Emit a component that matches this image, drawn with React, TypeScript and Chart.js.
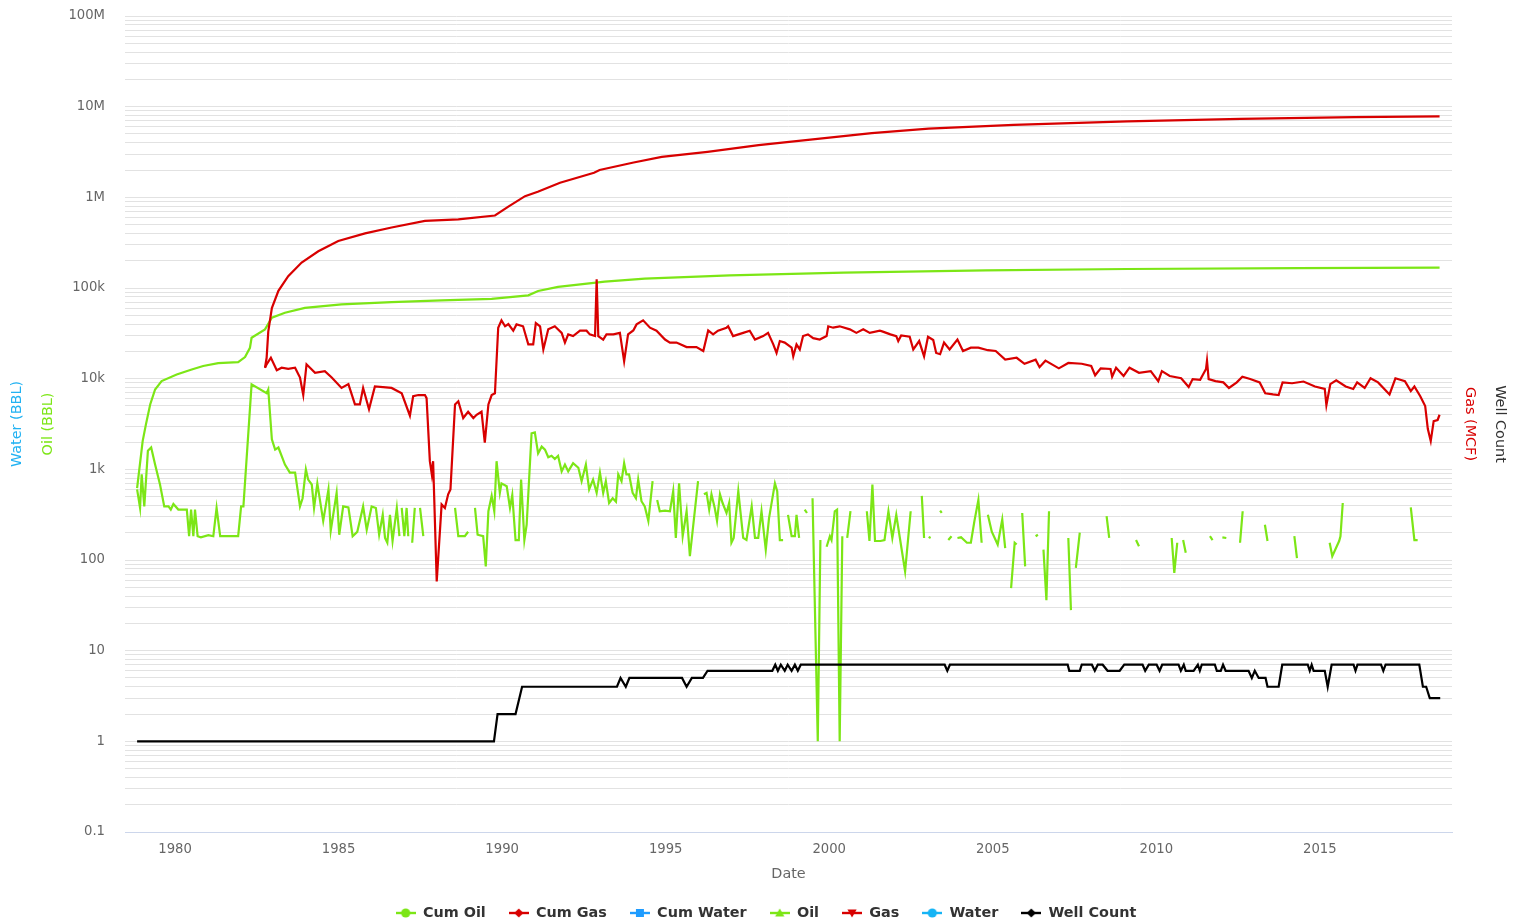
import React, { useEffect, useRef } from 'react';
import { Chart, registerables } from 'chart.js';

Chart.register(...registerables);

const FONT = '"DejaVu Sans", Verdana, sans-serif';

// ---- axes ----
const X_MIN = 1978.47;
const X_MAX = 2019.04;
const xTickYears = [1980, 1985, 1990, 1995, 2000, 2005, 2010, 2015];
const yDecades = [0.1, 1, 10, 100, 1e3, 1e4, 1e5, 1e6, 1e7, 1e8];
const yTickLabels = ['0.1', '1', '10', '100', '1k', '10k', '100k', '1M', '10M', '100M'];

// ---- series names / colours ----
const seriesNames = ['Cum Oil', 'Cum Gas', 'Cum Water', 'Oil', 'Gas', 'Water', 'Well Count'];
const seriesColors = ['#7ce616', '#d80000', '#1e9cff', '#7ce616', '#d80000', '#16b4f5', '#000000'];
const seriesSymbols = ['circle', 'diamond', 'square', 'triangle', 'triangle-down', 'circle', 'diamond'];

// ---- Cum Oil ----
const cumOilDates = [1978.84, 1979.01, 1979.11, 1979.24, 1979.39, 1979.59, 1980.05, 1980.51, 1980.86, 1981.32, 1981.93, 1982.14, 1982.29, 1982.34, 1982.75, 1982.96, 1983.36, 1983.97, 1985.09, 1986.62, 1988.15, 1989.68, 1990.80, 1991.10, 1991.71, 1993.14, 1994.36, 1996.96, 2000.44, 2004.78, 2009.11, 2014.31, 2018.66];
const cumOilValues = [620, 2050, 3130, 5200, 7600, 9400, 11100, 12600, 13800, 14850, 15200, 17300, 21900, 28300, 35000, 47000, 53300, 60300, 66000, 70000, 73100, 76000, 83000, 92700, 103000, 117500, 127000, 138000, 147500, 156800, 162000, 166000, 167500];

// ---- Cum Gas ----
const cumGasDates = [1982.75, 1982.80, 1982.85, 1982.96, 1983.16, 1983.46, 1983.87, 1984.38, 1984.99, 1985.81, 1986.62, 1987.64, 1988.66, 1989.78, 1990.19, 1990.70, 1991.09, 1991.77, 1992.81, 1992.98, 1994.02, 1994.88, 1996.28, 1997.84, 1999.57, 2001.30, 2003.04, 2005.64, 2009.11, 2012.58, 2016.05, 2018.66];
const cumGasValues = [13200, 17000, 33000, 60000, 93000, 135000, 191000, 254000, 330000, 400000, 465000, 550000, 570000, 630000, 790000, 1030000, 1150000, 1450000, 1870000, 2000000, 2420000, 2790000, 3170000, 3760000, 4380000, 5100000, 5730000, 6300000, 6900000, 7330000, 7660000, 7800000];

// ---- Cum Water / Water (no data) ----
const cumWaterDates: number[] = [];
const cumWaterValues: number[] = [];
const waterDates: number[] = [];
const waterValues: number[] = [];

// ---- Oil (monthly, null = no production) ----
const oilDates = [
  1978.84, 1978.93, 1978.98, 1979.06, 1979.17, 1979.27, 1979.39, 1979.54, 1979.67, 1979.80, 1979.87, 1979.95,
  1980.10, 1980.36, 1980.43, 1980.49, 1980.56, 1980.61, 1980.69, 1980.79, 1981.02, 1981.17, 1981.27, 1981.38,
  1981.93, 1982.02, 1982.09, 1982.34, 1982.80, 1982.85, 1982.96, 1983.06, 1983.16, 1983.36, 1983.51, 1983.67,
  1983.82, 1983.90, 1984.00, 1984.07, 1984.18, 1984.25, 1984.35, 1984.53, 1984.69, 1984.76, 1984.94, 1985.02,
  1985.14, 1985.30, 1985.43, 1985.57, 1985.75, 1985.86, 1986.01, 1986.14, 1986.24, 1986.35, 1986.42, 1986.49,
  1986.57, 1986.65, 1986.78, 1986.86, 1986.90, 1986.93, 1987.01, 1987.08, 1987.13, 1987.19, 1987.25, 1987.33,
  1987.41, 1987.49, 1987.59, 1988.00, 1988.56, 1988.66, 1988.86, 1988.96, 1989.06, 1989.17, 1989.25, 1989.42,
  1989.50, 1989.58, 1989.68, 1989.76, 1989.83, 1989.93, 1989.98, 1990.14, 1990.24, 1990.31, 1990.41, 1990.51,
  1990.58, 1990.68, 1990.75, 1990.90, 1991.00, 1991.10, 1991.21, 1991.31, 1991.41, 1991.51, 1991.61, 1991.71,
  1991.82, 1991.92, 1992.02, 1992.17, 1992.33, 1992.43, 1992.56, 1992.66, 1992.78, 1992.89, 1992.99, 1993.09,
  1993.17, 1993.27, 1993.38, 1993.48, 1993.55, 1993.65, 1993.73, 1993.80, 1993.88, 1993.99, 1994.09, 1994.16,
  1994.26, 1994.36, 1994.47, 1994.60, 1994.67, 1994.74, 1994.82, 1994.98, 1995.13, 1995.23, 1995.31, 1995.41,
  1995.52, 1995.64, 1995.74, 1995.99, 1996.08, 1996.17, 1996.25, 1996.33, 1996.40, 1996.50, 1996.57, 1996.66,
  1996.74, 1996.86, 1996.94, 1997.01, 1997.08, 1997.22, 1997.37, 1997.47, 1997.63, 1997.73, 1997.83, 1997.93,
  1998.06, 1998.16, 1998.34, 1998.41, 1998.49, 1998.59, 1998.66, 1998.74, 1998.85, 1998.95, 1999.00, 1999.08,
  1999.16, 1999.25, 1999.32, 1999.40, 1999.49, 1999.65, 1999.73, 1999.82, 1999.92, 2000.02, 2000.07, 2000.17,
  2000.24, 2000.32, 2000.40, 2000.47, 2000.55, 2000.65, 2000.90, 2001.15, 2001.23, 2001.32, 2001.40, 2001.57,
  2001.69, 2001.81, 2001.93, 2002.05, 2002.16, 2002.32, 2002.49, 2002.66, 2002.83, 2002.90, 2002.97, 2003.04,
  2003.10, 2003.25, 2003.39, 2003.44, 2003.54, 2003.64, 2003.74, 2003.83, 2003.92, 2004.03, 2004.21, 2004.33,
  2004.44, 2004.56, 2004.66, 2004.75, 2004.85, 2004.97, 2005.15, 2005.29, 2005.38, 2005.47, 2005.56, 2005.67,
  2005.73, 2005.81, 2005.90, 2005.99, 2006.15, 2006.31, 2006.38, 2006.46, 2006.55, 2006.64, 2006.72, 2007.00,
  2007.31, 2007.39, 2007.46, 2007.54, 2007.66, 2008.00, 2008.48, 2008.56, 2009.00, 2009.38, 2009.47, 2010.00,
  2010.47, 2010.55, 2010.64, 2010.73, 2010.82, 2010.90, 2011.30, 2011.64, 2011.72, 2011.87, 2012.02, 2012.14,
  2012.35, 2012.56, 2012.64, 2013.00, 2013.32, 2013.40, 2013.80, 2014.22, 2014.30, 2014.80, 2015.30, 2015.38,
  2015.59, 2015.63, 2015.70, 2016.70, 2017.78, 2017.89, 2017.99
];
const oilValues = [
  600, 375, 880, 390, 1600, 1740, 1130, 680, 390, 390, 360, 415,
  360, 360, 183, 360, 183, 360, 183, 178, 188, 183, 375, 183,
  183, 390, 390, 8650, 6900, 7600, 2140, 1650, 1740, 1130, 920, 920,
  390, 480, 1000, 770, 680, 375, 700, 270, 600, 210, 550, 190,
  390, 380, 183, 204, 390, 215, 390, 375, 190, 315, 175, 155,
  315, 162, 375, 183, null, 375, 183, 375, 183, null, 155, 375,
  null, 375, 183, null, 375, 183, 183, 205, null, 375, 190, 183,
  85, 345, 510, 345, 1230, 550, 700, 650, 375, 520, 166, 166,
  770, 166, 245, 2500, 2560, 1500, 1780, 1650, 1360, 1410, 1300, 1410,
  950, 1130, 950, 1170, 1040, 740, 1130, 600, 770, 550, 920, 550,
  740, 425, 480, 440, 880, 740, 1170, 880, 880, 550, 480, 770,
  445, 390, 270, 740, null, 460, 345, 350, 345, 575, 175, 700,
  183, 345, 110, 740, null, 530, 550, 360, 530, 375, 270, 530,
  425, 330, 425, 155, 175, 575, 175, 166, 390, 175, 175, 345,
  130, 290, 700, 575, 166, 166, null, 315, 183, 183, 315, 175,
  null, 360, 330, null, 480, 1, 166, null, 140, 183, 166, 345,
  360, 1, 183, null, 175, 345, null, 345, 162, 680, 162, 162,
  166, 345, 175, 315, 175, 75, 345, null, 510, 175, null, 180,
  175, null, 350, 330, null, 166, 183, null, 175, 178, 155, 155,
  270, 460, 155, null, 315, 205, 148, 280, 135, null, 49, 155,
  148, null, 330, 85, null, 183, 190, null, 130, 36, 345, null,
  175, 28, null, 82, 200, null, 305, 175, null, 166, 142, null,
  175, 72, 155, null, 166, 120, null, 183, 166, null, 178, 175,
  null, 155, 345, null, 245, 162, null, 183, 105, null, 155, 110,
  162, 183, 425, null, 380, 166, 166
];

// ---- Gas (monthly) ----
const gasDates = [
  1982.75, 1982.80, 1982.93, 1983.11, 1983.26, 1983.46, 1983.67, 1983.82, 1983.92, 1984.02, 1984.28, 1984.58,
  1984.79, 1985.09, 1985.30, 1985.50, 1985.65, 1985.75, 1985.93, 1986.11, 1986.62, 1986.93, 1987.18, 1987.28,
  1987.44, 1987.64, 1987.69, 1987.79, 1987.85, 1987.89, 1988.00, 1988.15, 1988.25, 1988.35, 1988.42, 1988.56,
  1988.66, 1988.81, 1988.96, 1989.12, 1989.22, 1989.37, 1989.47, 1989.58, 1989.68, 1989.78, 1989.88, 1989.98,
  1990.09, 1990.19, 1990.34, 1990.44, 1990.64, 1990.80, 1990.95, 1991.03, 1991.16, 1991.26, 1991.41, 1991.61,
  1991.82, 1991.92, 1992.02, 1992.17, 1992.38, 1992.58, 1992.68, 1992.84, 1992.89, 1992.94, 1993.09, 1993.19,
  1993.40, 1993.60, 1993.73, 1993.85, 1994.01, 1994.11, 1994.31, 1994.52, 1994.72, 1994.98, 1995.13, 1995.33,
  1995.64, 1995.94, 1996.15, 1996.30, 1996.45, 1996.60, 1996.86, 1996.91, 1997.06, 1997.37, 1997.57, 1997.73,
  1997.98, 1998.13, 1998.29, 1998.39, 1998.49, 1998.64, 1998.85, 1998.90, 1999.00, 1999.10, 1999.20, 1999.35,
  1999.51, 1999.71, 1999.92, 1999.97, 2000.12, 2000.32, 2000.63, 2000.83, 2001.04, 2001.24, 2001.55, 2001.64,
  2001.87, 2002.05, 2002.11, 2002.20, 2002.46, 2002.57, 2002.75, 2002.90, 2003.02, 2003.18, 2003.27, 2003.39,
  2003.51, 2003.68, 2003.92, 2004.09, 2004.33, 2004.56, 2004.85, 2005.09, 2005.38, 2005.73, 2005.97, 2006.31,
  2006.43, 2006.61, 2007.02, 2007.31, 2007.72, 2008.01, 2008.13, 2008.30, 2008.60, 2008.65, 2008.77, 2009.00,
  2009.18, 2009.47, 2009.83, 2010.06, 2010.17, 2010.41, 2010.76, 2010.99, 2011.11, 2011.34, 2011.52, 2011.55,
  2011.60, 2011.81, 2012.05, 2012.22, 2012.46, 2012.63, 2012.87, 2013.16, 2013.33, 2013.57, 2013.74, 2013.86,
  2014.15, 2014.50, 2014.85, 2015.15, 2015.20, 2015.32, 2015.50, 2015.79, 2016.02, 2016.14, 2016.37, 2016.55,
  2016.78, 2017.13, 2017.31, 2017.60, 2017.78, 2017.89, 2018.07, 2018.22, 2018.30, 2018.39, 2018.48, 2018.60,
  2018.66
];
const gasValues = [
  13200, 14400, 17000, 12400, 13200, 12800, 13200, 10300, 6600, 14400, 11600, 12100,
  10300, 7900, 8700, 5200, 5200, 7900, 4600, 8200, 7900, 6900, 3900, 6400,
  6600, 6600, 6100, 1230, 880, 1230, 58, 410, 375, 530, 600, 5200,
  5630, 3680, 4320, 3680, 4000, 4320, 1970, 5200, 6600, 6900, 36500, 44000,
  37800, 40000, 33800, 39700, 37800, 23900, 23900, 41000, 37800, 21000, 35000, 37800,
  32000, 25000, 30800, 29500, 33800, 33800, 30800, 29500, 125000, 29500, 27000, 30800,
  30800, 32000, 15600, 30800, 34000, 39700, 44000, 36500, 33800, 27000, 25000, 25000,
  22300, 22300, 20200, 34000, 30800, 33800, 36500, 37800, 29500, 32000, 33800, 27000,
  29500, 32000, 23900, 19200, 26000, 25000, 22000, 17600, 23900, 21000, 29500, 30800,
  28000, 27000, 29500, 37800, 36500, 37800, 35000, 32000, 35000, 32000, 33800, 33000,
  30800, 29500, 26000, 30000, 29000, 21000, 26000, 17600, 29000, 26700, 19200, 18600,
  25000, 21000, 27000, 20200, 22000, 22000, 20600, 20200, 16200, 17000, 14600, 16200,
  13400, 15800, 13000, 14900, 14600, 13800, 10900, 13000, 12800, 10500, 13200, 10700,
  13200, 11600, 12100, 9400, 12100, 10700, 10100, 8100, 9900, 9700, 12800, 15800,
  9900, 9400, 9100, 7900, 9100, 10500, 9900, 9100, 6900, 6700, 6600, 9100,
  8900, 9300, 8200, 7700, 5100, 8700, 9600, 8200, 7700, 9100, 7900, 10100,
  9100, 6700, 10100, 9400, 7300, 8200, 6400, 5000, 2800, 2050, 3400, 3500,
  4000
];

// ---- Well Count ----
const wellDates = [
  1978.84, 1989.75, 1989.86, 1990.41, 1990.61, 1993.51, 1993.62, 1993.78, 1993.89, 1995.50, 1995.64, 1995.80,
  1996.14, 1996.28, 1998.26, 1998.35, 1998.43, 1998.52, 1998.64, 1998.73, 1998.85, 1998.95, 1999.04, 1999.13,
  2003.53, 2003.61, 2003.69, 2007.29, 2007.34, 2007.66, 2007.72, 2008.03, 2008.12, 2008.21, 2008.36, 2008.51,
  2008.88, 2009.02, 2009.58, 2009.66, 2009.77, 2010.01, 2010.10, 2010.18, 2010.68, 2010.75, 2010.84, 2010.90,
  2011.14, 2011.27, 2011.33, 2011.39, 2011.79, 2011.85, 2011.97, 2012.04, 2012.12, 2012.82, 2012.92, 2013.01,
  2013.13, 2013.34, 2013.40, 2013.74, 2013.85, 2014.63, 2014.69, 2014.75, 2014.81, 2015.15, 2015.24, 2015.36,
  2016.03, 2016.09, 2016.15, 2016.87, 2016.94, 2017.01, 2018.04, 2018.15, 2018.25, 2018.36, 2018.68
];
const wellValues = [
  1, 1, 2, 2, 4, 4, 5, 4, 5, 5, 4, 5,
  5, 6, 6, 7, 6, 7, 6, 7, 6, 7, 6, 7,
  7, 6, 7, 7, 6, 6, 7, 7, 6, 7, 7, 6,
  6, 7, 7, 6, 7, 7, 6, 7, 7, 6, 7, 6,
  6, 7, 6, 7, 7, 6, 6, 7, 6, 6, 5, 6,
  5, 5, 4, 4, 7, 7, 6, 7, 6, 6, 4, 7,
  7, 6, 7, 7, 6, 7, 7, 4, 4, 3, 3
];

const toPoints = (xs: number[], ys: (number | null)[]) => xs.map((x, i) => ({ x, y: ys[i] }));

function makeSymbol(color: string, shape: string): HTMLCanvasElement {
  const c = document.createElement('canvas');
  c.width = 20;
  c.height = 12;
  const g = c.getContext('2d')!;
  g.strokeStyle = color;
  g.lineWidth = 2.4;
  g.beginPath();
  g.moveTo(0, 6);
  g.lineTo(20, 6);
  g.stroke();
  g.fillStyle = color;
  const cx = 10, cy = 6, r = 4.6;
  g.beginPath();
  if (shape === 'circle') g.arc(cx, cy, r, 0, Math.PI * 2);
  else if (shape === 'diamond') { g.moveTo(cx, cy - r); g.lineTo(cx + r, cy); g.lineTo(cx, cy + r); g.lineTo(cx - r, cy); g.closePath(); }
  else if (shape === 'square') g.rect(cx - 4, cy - 4, 8, 8);
  else if (shape === 'triangle') { g.moveTo(cx, cy - r); g.lineTo(cx + r, cy + r - 1); g.lineTo(cx - r, cy + r - 1); g.closePath(); }
  else if (shape === 'triangle-down') { g.moveTo(cx - r, cy - r + 1); g.lineTo(cx + r, cy - r + 1); g.lineTo(cx, cy + r); g.closePath(); }
  g.fill();
  return c;
}

export default function App() {
  const ref = useRef<HTMLCanvasElement>(null);

  useEffect(() => {
    document.body.style.margin = '0';
    const canvas = ref.current!;
    const seriesData = [
      toPoints(cumOilDates, cumOilValues),
      toPoints(cumGasDates, cumGasValues),
      toPoints(cumWaterDates, cumWaterValues),
      toPoints(oilDates, oilValues),
      toPoints(gasDates, gasValues),
      toPoints(waterDates, waterValues),
      toPoints(wellDates, wellValues),
    ];
    const symbols = seriesNames.map((_, i) => makeSymbol(seriesColors[i], seriesSymbols[i]));

    const titleOnlyAxis = (position: string, weight: number, text: string, color: string, padTop: number, width: number) => ({
      type: 'linear',
      position,
      weight,
      display: true,
      ticks: { display: false },
      grid: { display: false },
      border: { display: false },
      title: { display: true, text, color, font: { family: FONT, size: 14.4 }, padding: { top: padTop, bottom: 0 } },
      afterFit: (s: any) => { s.width = width; },
    });

    const chart = new Chart(canvas, {
      type: 'line',
      data: {
        datasets: seriesNames.map((name, i) => ({
          label: name,
          data: seriesData[i],
          borderColor: seriesColors[i],
          backgroundColor: seriesColors[i],
          borderWidth: 2.2,
          pointRadius: 0,
          pointHoverRadius: 0,
          tension: 0,
          spanGaps: false,
          fill: false,
          yAxisID: 'y',
          xAxisID: 'x',
          order: 6 - i,
        })),
      },
      options: {
        responsive: false,
        animation: false,
        parsing: true,
        events: [],
        layout: { padding: { top: 16, bottom: -7.2, left: 0, right: 0 } },
        scales: {
          x: {
            type: 'linear',
            position: 'bottom',
            min: X_MIN,
            max: X_MAX,
            afterBuildTicks: (s: any) => { s.ticks = xTickYears.map((v) => ({ value: v })); },
            ticks: {
              autoSkip: false,
              maxRotation: 0,
              color: '#666666',
              font: { family: FONT, size: 13.2 },
              padding: 2,
              callback: (v: any) => String(v),
            },
            grid: { display: true, drawOnChartArea: false, drawTicks: true, tickLength: 8, tickColor: 'rgba(0,0,0,0)' },
            border: { display: true, color: '#ccd6eb', width: 1 },
            title: { display: true, text: 'Date', color: '#666666', font: { family: FONT, size: 14.4 }, padding: { top: 0, bottom: 0 } },
            afterFit: (s: any) => { s.height = 50.8; },
          },
          yWater: titleOnlyAxis('left', 10, 'Water (BBL)', '#22b2f2', 8.4, 33),
          y: {
            type: 'logarithmic',
            position: 'left',
            weight: 0,
            min: 0.1,
            max: 1e8,
            afterBuildTicks: (s: any) => {
              const t: any[] = [];
              for (let d = 0; d < yDecades.length - 1; d++) {
                for (let m = 1; m <= 9; m++) t.push({ value: yDecades[d] * m, major: m === 1 });
              }
              t.push({ value: yDecades[yDecades.length - 1], major: true });
              s.ticks = t;
            },
            ticks: {
              autoSkip: false,
              color: '#666666',
              font: { family: FONT, size: 13.2 },
              padding: 3,
              callback: (v: any) => {
                const idx = yDecades.findIndex((d) => Math.abs(d - v) / d < 1e-6);
                return idx >= 0 ? yTickLabels[idx] : '';
              },
            },
            grid: { color: '#e2e2e2', lineWidth: 1, drawTicks: true, tickLength: 17, tickColor: 'rgba(0,0,0,0)' },
            border: { display: false },
            title: { display: true, text: 'Oil (BBL)', color: '#7ce616', font: { family: FONT, size: 14.4 }, padding: { top: 6.4, bottom: 0 } },
            afterFit: (s: any) => { s.width = 92; },
          },
          yGas: titleOnlyAxis('right', 0, 'Gas (MCF)', '#d80000', 3.4, 30),
          yWell: titleOnlyAxis('right', 10, 'Well Count', '#333333', 23.4, 50),
        } as any,
        plugins: {
          tooltip: { enabled: false },
          title: { display: false },
          legend: {
            display: true,
            position: 'bottom',
            labels: {
              usePointStyle: true,
              pointStyleWidth: 20,
              padding: 23,
              color: '#333333',
              font: { family: FONT, size: 14.4, weight: 'bold' },
              generateLabels: () =>
                seriesNames.map((name, i) => ({
                  text: name,
                  pointStyle: symbols[i] as any,
                  fillStyle: seriesColors[i],
                  strokeStyle: seriesColors[i],
                  lineWidth: 0,
                  hidden: false,
                  datasetIndex: i,
                  fontColor: '#333333',
                })),
            },
          },
        },
      } as any,
    });

    return () => chart.destroy();
  }, []);

  return (
    <div style={{ width: 1532, height: 923 }}>
      <canvas ref={ref} width={1532} height={923} style={{ display: 'block' }} />
    </div>
  );
}
